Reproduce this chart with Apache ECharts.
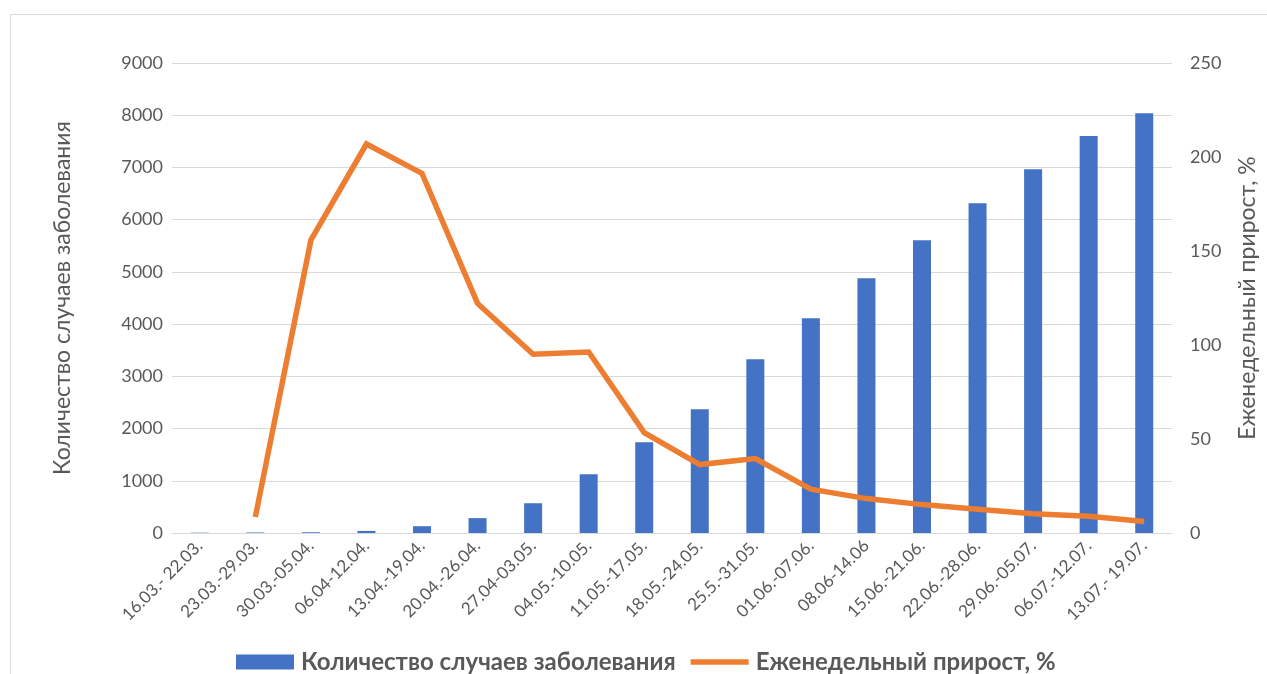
<!DOCTYPE html>
<html>
<head>
<meta charset="utf-8">
<script src="https://cdn.jsdelivr.net/npm/echarts@6/dist/echarts.min.js"></script>
<style>
  html, body { margin: 0; padding: 0; background: #fff; }
  #chart { width: 1267px; height: 674px; }
</style>
</head>
<body>
<div id="chart"></div>
<script>
// Weekly periods
const weeks = [
  '16.03.- 22.03.', '23.03.-29.03.', '30.03.-05.04.', '06.04-12.04.',
  '13.04.-19.04.', '20.04.-26.04.', '27.04-03.05.', '04.05.-10.05.',
  '11.05.-17.05.', '18.05.-24.05.', '25.5.-31.05.', '01.06.-07.06.',
  '08.06-14.06', '15.06.-21.06.', '22.06.-28.06.', '29.06.-05.07.',
  '06.07.-12.07.', '13.07.- 19.07.'
];

// Cumulative number of cases
const cases = [6, 10, 14, 40, 130, 285, 570, 1127, 1738, 2370, 3328, 4113,
               4879, 5607, 6316, 6967, 7600, 8040];

// Weekly growth, %
const growth = [null, 8.5, 155.8, 206.9, 191.3, 122.1, 95.1, 96.3, 53.4, 36.4,
                39.6, 23.3, 18.3, 15.1, 12.6, 10.3, 8.9, 6.1];

const seriesNames = ['Количество случаев заболевания', 'Еженедельный прирост, %'];

const FONT = 'Lato, "Open Sans", "Noto Sans", sans-serif';
const GRAY = '#595959';
const GRID = '#d9d9d9';

// Thick horizontal stroke used as the legend marker of the line series
const lineIcon = 'path://M0,0M62,15M0,4.5h62v6h-62z';

const chart = echarts.init(document.getElementById('chart'));
chart.setOption({
  animation: false,
  textStyle: { fontFamily: FONT },
  graphic: [{
    type: 'rect',
    left: 8, top: 12,
    shape: { width: 1300, height: 700 },
    style: { fill: 'none', stroke: GRID, lineWidth: 1 },
    silent: true
  }],
  grid: { left: 172, right: 92, top: 63, bottom: 141 },
  legend: {
    top: 645,
    left: 231,
    itemGap: 15,
    itemWidth: 58,
    itemHeight: 15,
    textStyle: { fontFamily: FONT, fontSize: 24, fontWeight: 'bold', color: GRAY, padding: [0, 0, 0, 2] },
    data: [
      { name: seriesNames[0], icon: 'rect', itemStyle: { color: '#4472c4' } },
      { name: seriesNames[1], icon: lineIcon, itemStyle: { color: '#ed7d31' } }
    ]
  },
  xAxis: {
    type: 'category',
    data: weeks,
    axisTick: { show: false },
    axisLine: { lineStyle: { color: GRID, width: 1 } },
    axisLabel: { rotate: 45, color: GRAY, fontSize: 17, margin: 10, interval: 0 }
  },
  yAxis: [{
    type: 'value',
    min: 0, max: 9000, interval: 1000,
    name: seriesNames[0],
    nameLocation: 'middle',
    nameGap: 98,
    nameTextStyle: { fontSize: 23, color: GRAY },
    axisLabel: { color: GRAY, fontSize: 18, margin: 9, formatter: v => String(v) },
    splitLine: { lineStyle: { color: GRID, width: 1 } },
    axisLine: { show: false }, axisTick: { show: false }
  }, {
    type: 'value',
    min: 0, max: 250, interval: 50,
    name: seriesNames[1],
    nameLocation: 'middle',
    nameGap: 64,
    nameTextStyle: { fontSize: 23, color: GRAY },
    axisLabel: { color: GRAY, fontSize: 18, margin: 18 },
    splitLine: { show: false },
    axisLine: { show: false }, axisTick: { show: false }
  }],
  series: [{
    name: seriesNames[0],
    type: 'bar',
    data: cases,
    barWidth: 18,
    itemStyle: { color: '#4472c4' }
  }, {
    name: seriesNames[1],
    type: 'line',
    yAxisIndex: 1,
    data: growth,
    showSymbol: false,
    symbol: 'none',
    itemStyle: { color: '#ed7d31' },
    lineStyle: { color: '#ed7d31', width: 5.5, join: 'miter' }
  }]
});
</script>
</body>
</html>
